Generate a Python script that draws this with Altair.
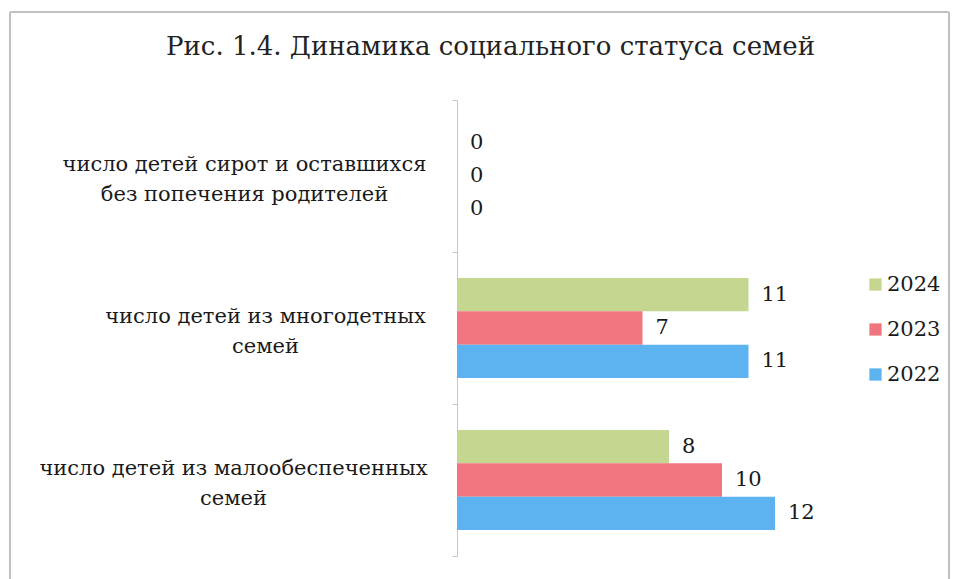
import altair as alt
import pandas as pd

categories = [
    "число детей сирот и оставшихся|без попечения родителей",
    "число детей из многодетных|семей",
    "число детей из малообеспеченных|семей",
]
years = ["2024", "2023", "2022"]
values_2024 = [0, 11, 8]
values_2023 = [0, 7, 10]
values_2022 = [0, 11, 12]
colors = ["#c4d68f", "#f0757e", "#5cb3ef"]

rows = []
for year, vals in zip(years, [values_2024, values_2023, values_2022]):
    for cat, v in zip(categories, vals):
        rows.append({"category": cat, "year": year, "value": v})
df = pd.DataFrame(rows)

FONT = "DejaVu Serif"

label_padding = {
    "condition": [
        {"test": f"datum.value === '{categories[1]}'", "value": 187},
        {"test": f"datum.value === '{categories[2]}'", "value": 219},
    ],
    "value": 208,
}

base = alt.Chart(df).encode(
    y=alt.Y(
        "category:N",
        sort=categories,
        scale=alt.Scale(paddingInner=0, paddingOuter=0),
        axis=alt.Axis(
            title=None,
            labelExpr="split(datum.label, '|')",
            labelFont=FONT,
            labelFontSize=21,
            labelColor="#1a1a1a",
            labelAlign="center",
            labelPadding=label_padding,
            labelLineHeight=30,
            labelOffset=-12,
            labelLimit=0,
            tickBand="extent",
            tickSize=5,
            tickColor="#c8c8c8",
            domainColor="#c8c8c8",
            grid=False,
        ),
    ),
    yOffset=alt.YOffset(
        "year:N",
        sort=years,
        scale=alt.Scale(paddingInner=0, paddingOuter=0.78),
    ),
    x=alt.X("value:Q", scale=alt.Scale(domain=[0, 14]), axis=None),
)

bars = base.mark_bar().encode(
    color=alt.Color(
        "year:N",
        scale=alt.Scale(domain=years, range=colors),
        legend=alt.Legend(
            title=None,
            orient="none",
            legendX=408,
            legendY=174,
            symbolType="square",
            symbolSize=150,
            symbolStrokeWidth=0,
            labelFont=FONT,
            labelFontSize=21,
            labelColor="#1a1a1a",
            rowPadding=23,
            labelOffset=1,
        ),
    )
)

labels = base.mark_text(
    align="left", baseline="middle", dx=13, font=FONT, fontSize=21, color="#1a1a1a"
).encode(text="value:Q")

frame = alt.Chart(df).mark_rect(
    fill=None, stroke="#c0c0c0", strokeWidth=1, clip=False
).encode(
    x=alt.value(-447), x2=alt.value(492), y=alt.value(-88), y2=alt.value(490)
)

chart = (
    alt.layer(frame, bars, labels)
    .properties(
        width=371,
        height=456,
        autosize=alt.AutoSizeParams(type="none"),
        padding={"left": 449, "top": 92, "right": 123, "bottom": 23},
        title=alt.TitleParams(
            "Рис. 1.4. Динамика социального  статуса  семей",
            font=FONT,
            fontSize=26,
            fontWeight="normal",
            color="#222222",
            anchor="middle",
            dx=-152,
            offset=-48,
        ),
    )
    .configure(background="white")
    .configure_view(strokeWidth=0)
)

chart.save("out.html", embed_options={"renderer": "svg", "actions": False})
